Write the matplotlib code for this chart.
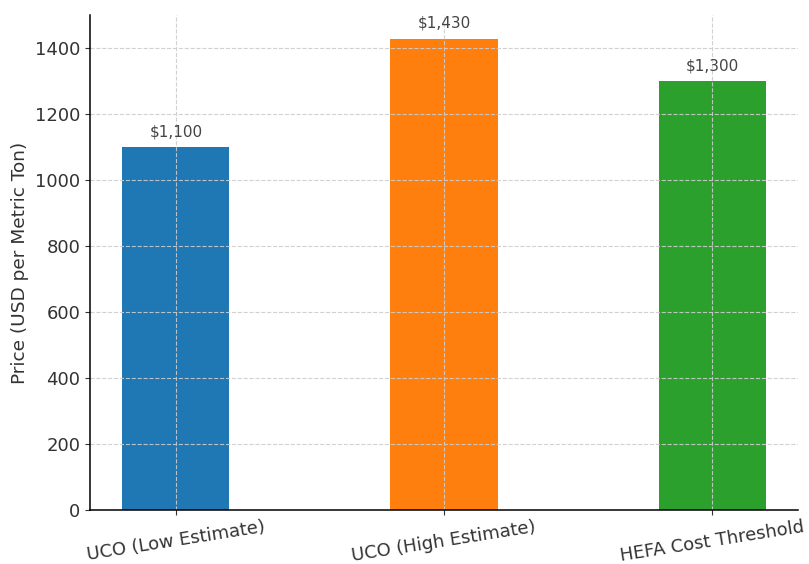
import matplotlib
matplotlib.use('Agg')
import matplotlib.pyplot as plt

# Feedstock price comparison
categories = ['UCO (Low Estimate)', 'UCO (High Estimate)', 'HEFA Cost Threshold']
prices = [1100, 1430, 1300]
colors = ['#1f77b4', '#ff7f0e', '#2ca02c']

fig = plt.figure(figsize=(8.09, 5.64), dpi=100)
ax = fig.add_axes([90 / 809, 54 / 564, 708 / 809, 495 / 564])

bars = ax.bar(categories, prices, color=colors, width=0.4)
for b, v in zip(bars, prices):
    ax.text(b.get_x() + b.get_width() / 2, v + 25, f'${v:,}',
            ha='center', va='bottom', fontsize=11, color='#444444')

ax.set_ylabel('Price (USD per Metric Ton)', fontsize=13.3, color='#333333')
ax.tick_params(axis='both', labelsize=13, colors='#333333')
ax.tick_params(axis='x', pad=2)
plt.setp(ax.get_xticklabels(), rotation=9)
ax.grid(True, linestyle='--', color='#cccccc', alpha=0.9, linewidth=0.8)
for s in ('left', 'bottom'):
    ax.spines[s].set_linewidth(1.1)
ax.spines['top'].set_visible(False)
ax.spines['right'].set_visible(False)

fig.savefig('out.png', dpi=100)
